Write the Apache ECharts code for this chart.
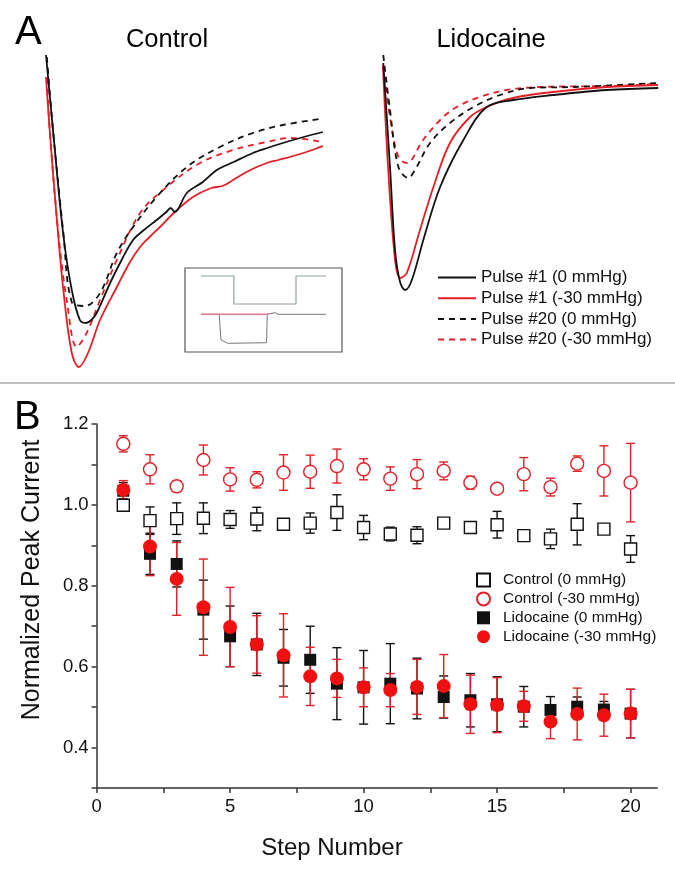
<!DOCTYPE html>
<html><head><meta charset="utf-8">
<script src="https://cdn.jsdelivr.net/npm/echarts@6/dist/echarts.min.js"></script>
<style>html,body{margin:0;padding:0;background:#fff}#c{width:675px;height:874px}</style>
</head><body><div id="c"></div>
<script>
// ---------- Panel A: current traces (t in ms, I in nA) ----------
const traceNames = ['Pulse #1 (0 mmHg)', 'Pulse #1 (-30 mmHg)', 'Pulse #20 (0 mmHg)', 'Pulse #20 (-30 mmHg)'];
const ctlP1_0 = [[0,-0.05],[0.26,-0.83],[0.61,-1.83],[0.92,-2.40],[1.21,-2.70],[1.43,-2.73],[1.62,-2.70],[1.81,-2.63],[2.29,-2.33],[2.7,-2.10],[3.11,-1.90],[3.5,-1.80],[3.95,-1.70],[4.3,-1.62],[4.45,-1.58],[4.6,-1.62],[5.03,-1.43],[5.6,-1.32],[6.10,-1.20],[6.7,-1.12],[7.39,-1.03],[7.9,-0.98],[8.46,-0.93],[9.2,-0.87],[9.89,-0.82]];
const ctlP1_30 = [[0,-0.27],[0.14,-0.83],[0.38,-1.67],[0.62,-2.40],[0.92,-3.03],[1.18,-3.17],[1.50,-3.03],[1.93,-2.70],[2.53,-2.37],[3.0,-2.12],[3.36,-1.97],[3.7,-1.87],[4.07,-1.77],[4.6,-1.62],[5.25,-1.47],[5.9,-1.38],[6.3,-1.36],[6.68,-1.30],[7.3,-1.20],[7.89,-1.13],[8.3,-1.10],[8.71,-1.07],[9.3,-1.02],[9.89,-0.96]];
const ctlP20_0 = [[0.03,-0.07],[0.26,-0.83],[0.62,-1.83],[0.92,-2.52],[1.39,-2.56],[1.93,-2.43],[2.53,-2.03],[3.11,-1.77],[3.95,-1.47],[5.03,-1.17],[6.21,-0.97],[7.39,-0.83],[8.46,-0.75],[9.79,-0.69]];
const ctlP20_30 = [[0.03,-0.28],[0.14,-0.83],[0.44,-1.83],[0.74,-2.50],[1.10,-2.97],[1.45,-2.83],[1.93,-2.50],[2.53,-2.10],[3.36,-1.63],[4.31,-1.37],[5.50,-1.13],[6.68,-1.00],[7.89,-0.92],[8.71,-0.88],[9.89,-0.92]];
const lidP1_0 = [[0.01,-0.13],[0.25,-1.17],[0.43,-2.00],[0.61,-2.32],[0.79,-2.40],[1.03,-2.30],[1.44,-1.90],[2.04,-1.37],[2.87,-0.90],[3.70,-0.57],[4.65,-0.50],[6.08,-0.45],[7.99,-0.40],[9.83,-0.38]];
const lidP1_30 = [[0,-0.17],[0.18,-1.17],[0.43,-2.10],[0.61,-2.28],[0.85,-2.23],[1.32,-1.80],[1.80,-1.37],[2.39,-0.93],[3.11,-0.67],[3.70,-0.57],[4.64,-0.48],[6.07,-0.42],[7.99,-0.37],[9.82,-0.35]];
const lidP20_0 = [[0.01,-0.05],[0.25,-0.60],[0.55,-1.17],[0.90,-1.28],[1.14,-1.20],[1.68,-0.93],[2.39,-0.73],[3.23,-0.57],[4.18,-0.45],[5.25,-0.38],[6.79,-0.37],[9.82,-0.33]];
const lidP20_30 = [[0,-0.15],[0.25,-0.67],[0.55,-1.07],[0.85,-1.13],[1.43,-0.90],[2.04,-0.70],[2.63,-0.57],[3.46,-0.47],[4.42,-0.40],[5.61,-0.37],[7.99,-0.36],[9.82,-0.34]];
// inset protocol (ms, arbitrary units)
const insetVoltage = [[5.3,76],[16.3,76],[16.3,48],[37,48],[37,76],[47,76]];
const insetCurrent = [[5.3,37.7],[11.4,37.7],[12,12],[14.3,8.7],[27.2,9.3],[27.4,37.7],[30,39.3],[31,37.7],[47,37.7]];
const insetBaseline = [[5.3,37.7],[28,37.7]];

// ---------- Panel B: normalized peak current ----------
const steps = [1,2,3,4,5,6,7,8,9,10,11,12,13,14,15,16,17,18,19,20];
const seriesNames = ['Control (0 mmHg)', 'Control (-30 mmHg)', 'Lidocaine (0 mmHg)', 'Lidocaine (-30 mmHg)'];
const ctrl0 = [0.999,0.961,0.966,0.967,0.964,0.965,0.952,0.955,0.981,0.944,0.928,0.925,0.955,0.944,0.951,0.924,0.916,0.952,0.940,0.891];
const ctrl0Err = [0,0.034,0.039,0.038,0.022,0.029,0,0.025,0.044,0.030,0.017,0.021,0,0,0.033,0.008,0.024,0.051,0,0.033];
const ctrl30 = [1.151,1.088,1.046,1.111,1.063,1.062,1.080,1.082,1.096,1.088,1.065,1.076,1.084,1.055,1.040,1.076,1.044,1.102,1.084,1.055];
const ctrl30Err = [0.02,0.036,0.013,0.037,0.029,0.02,0.044,0.041,0.042,0.026,0.029,0.036,0.022,0.016,0,0.041,0.022,0.019,0.062,0.097];
const lido0 = [1.035,0.879,0.854,0.741,0.675,0.655,0.622,0.617,0.558,0.549,0.558,0.546,0.525,0.517,0.507,0.501,0.493,0.501,0.494,0.484];
const lido0Err = [0.02,0.051,0.057,0.073,0.075,0.077,0.07,0.083,0.089,0.091,0.099,0.075,0.052,0.066,0.068,0.05,0.033,0.024,0.02,0.06];
const lido30 = [1.037,0.897,0.817,0.747,0.698,0.655,0.628,0.576,0.571,0.549,0.542,0.550,0.552,0.507,0.505,0.502,0.464,0.483,0.480,0.484];
const lido30Err = [0.023,0.072,0.09,0.119,0.098,0.071,0.103,0.072,0.047,0.048,0.041,0.068,0.078,0.072,0.068,0.037,0.042,0.064,0.052,0.06];
const xTicks = [0,2.5,5,7.5,10,12.5,15,17.5,20];
const xTickLabels = [0,5,10,15,20];
const yTicks = [0.3,0.4,0.5,0.6,0.7,0.8,0.9,1.0,1.1,1.2];
const yTickLabels = [0.4,0.6,0.8,1.0,1.2];

const RED = '#e31f26', BLACK = '#111111';
const FONT = "'Liberation Sans', Arial, Helvetica, sans-serif";

const chart = echarts.init(document.getElementById('c'), null, {renderer: 'canvas'});

function traceSeries(name, data, color, dashed, idx) {
  return {
    type: 'line', name, data, xAxisIndex: idx, yAxisIndex: idx,
    symbol: 'none', showSymbol: false, smooth: 0.35, clip: false, silent: true,
    lineStyle: {color, width: 1.8, type: dashed ? [6, 5] : 'solid'},
    itemStyle: {color}
  };
}
function errSeries(vals, errs, color) {
  return {
    type: 'custom', xAxisIndex: 3, yAxisIndex: 3, silent: true,
    encode: {x: 0, y: [1, 2]},
    data: steps.map((s, i) => [s, vals[i] - errs[i], vals[i] + errs[i]]),
    renderItem: (params, api) => {
      const x = api.value(0), lo = api.value(1), hi = api.value(2);
      if (hi - lo < 1e-6) return null;
      const a = api.coord([x, lo]), b = api.coord([x, hi]);
      const w = 4.5;
      const st = {stroke: color, lineWidth: 1.4};
      return {type: 'group', children: [
        {type: 'line', shape: {x1: a[0], y1: a[1], x2: b[0], y2: b[1]}, style: st},
        {type: 'line', shape: {x1: a[0]-w, y1: a[1], x2: a[0]+w, y2: a[1]}, style: st},
        {type: 'line', shape: {x1: b[0]-w, y1: b[1], x2: b[0]+w, y2: b[1]}, style: st}
      ]};
    }
  };
}
function hiddenAxis(gridIndex, min, max) {
  return {type: 'value', gridIndex, min, max, show: false, splitLine: {show: false}};
}
const axisLine = {lineStyle: {color: '#333', width: 1.5}};

const option = {
  backgroundColor: '#fff',
  animation: false,
  textStyle: {fontFamily: FONT},
  title: [
    {text: 'A', left: 15, top: 13, padding: 0, textStyle: {fontSize: 40, fontWeight: 'normal', color: '#000', fontFamily: FONT}},
    {text: 'Control', left: 167, top: 27, padding: 0, textAlign: 'center', textStyle: {fontSize: 25.5, fontWeight: 'normal', color: '#000', fontFamily: FONT}},
    {text: 'Lidocaine', left: 491, top: 27, padding: 0, textAlign: 'center', textStyle: {fontSize: 25.5, fontWeight: 'normal', color: '#000', fontFamily: FONT}},
    {text: 'B', left: 14, top: 398, padding: 0, textStyle: {fontSize: 40, fontWeight: 'normal', color: '#000', fontFamily: FONT}}
  ],
  graphic: [
    {type: 'line', shape: {x1: 0, y1: 383, x2: 675, y2: 383}, style: {stroke: '#aaa', lineWidth: 1.5}}
  ],
  grid: [
    {left: 46, top: 50, width: 280, height: 330},
    {left: 383, top: 50, width: 280, height: 330},
    {left: 185, top: 268, width: 157, height: 84, show: true, borderColor: '#555', borderWidth: 1.2, backgroundColor: '#fff', z: 5},
    {left: 96.6, top: 424, width: 560.7, height: 364}
  ],
  xAxis: [
    hiddenAxis(0, 0, 10), hiddenAxis(1, 0, 10), Object.assign(hiddenAxis(2, 0, 52.33), {z: 6}),
    {type: 'value', gridIndex: 3, min: 0, max: 21, splitLine: {show: false},
     axisLine, axisTick: {show: true, inside: false, length: 5, customValues: xTicks, lineStyle: {color: '#333', width: 1.5}},
     axisLabel: {customValues: xTickLabels, fontSize: 18.5, color: '#111', margin: 9, fontFamily: FONT},
     name: 'Step Number', nameLocation: 'middle', nameGap: 48,
     nameTextStyle: {fontSize: 24, color: '#111', fontFamily: FONT, padding: [0, 90, 0, 0]}}
  ],
  yAxis: [
    hiddenAxis(0, -3.3, 0), hiddenAxis(1, -3.3, 0), Object.assign(hiddenAxis(2, 0, 84), {z: 6}),
    {type: 'value', gridIndex: 3, min: 0.3, max: 1.2, splitLine: {show: false},
     axisLine, axisTick: {show: true, inside: false, length: 5, customValues: yTicks, lineStyle: {color: '#333', width: 1.5}},
     axisLabel: {customValues: yTickLabels, fontSize: 18.5, color: '#111', margin: 8, fontFamily: FONT,
                 formatter: v => v.toFixed(1)},
     name: 'Normalized Peak Current', nameLocation: 'middle', nameGap: 52,
     nameTextStyle: {fontSize: 25, color: '#111', fontFamily: FONT, padding: [0, 0, 0, 52]}}
  ],
  legend: [
    {data: traceNames, orient: 'vertical', left: 437, top: 269, itemWidth: 38, itemHeight: 14, itemGap: 3.7,
     padding: 0, selectedMode: false, itemStyle: {opacity: 0},
     textStyle: {fontSize: 17, color: '#111', fontFamily: FONT}},
    {data: [
       {name: seriesNames[0], icon: 'rect'},
       {name: seriesNames[1], icon: 'circle'},
       {name: seriesNames[2], icon: 'rect'},
       {name: seriesNames[3], icon: 'circle'}],
     orient: 'vertical', left: 476, top: 572, itemWidth: 13, itemHeight: 13, itemGap: 2.9,
     padding: 0, selectedMode: false, textStyle: {fontSize: 15.5, color: '#111', fontFamily: FONT, padding: [0, 0, 0, 8]}}
  ],
  series: [
    traceSeries(traceNames[3], ctlP20_30, RED, true, 0),
    traceSeries(traceNames[2], ctlP20_0, BLACK, true, 0),
    traceSeries(traceNames[1], ctlP1_30, RED, false, 0),
    traceSeries(traceNames[0], ctlP1_0, BLACK, false, 0),
    traceSeries(traceNames[3], lidP20_30, RED, true, 1),
    traceSeries(traceNames[2], lidP20_0, BLACK, true, 1),
    traceSeries(traceNames[1], lidP1_30, RED, false, 1),
    traceSeries(traceNames[0], lidP1_0, BLACK, false, 1),
    {type: 'line', xAxisIndex: 2, yAxisIndex: 2, data: insetVoltage, symbol: 'none', z: 7, silent: true,
     lineStyle: {color: '#8fa0a0', width: 1.2}},
    {type: 'line', xAxisIndex: 2, yAxisIndex: 2, data: insetCurrent, symbol: 'none', z: 7, silent: true,
     lineStyle: {color: '#777', width: 1}},
    {type: 'line', xAxisIndex: 2, yAxisIndex: 2, data: insetBaseline, symbol: 'none', z: 8, silent: true,
     lineStyle: {color: '#e27c92', width: 1.6}},
    errSeries(ctrl0, ctrl0Err, BLACK),
    {type: 'scatter', name: seriesNames[0], xAxisIndex: 3, yAxisIndex: 3, data: steps.map((s, i) => [s, ctrl0[i]]),
     symbol: 'rect', symbolSize: 12, itemStyle: {color: '#fff', borderColor: BLACK, borderWidth: 1.4, opacity: 1}},
    errSeries(ctrl30, ctrl30Err, RED),
    {type: 'scatter', name: seriesNames[1], xAxisIndex: 3, yAxisIndex: 3, data: steps.map((s, i) => [s, ctrl30[i]]),
     symbol: 'circle', symbolSize: 13, itemStyle: {color: '#fff', borderColor: RED, borderWidth: 1.4, opacity: 1}},
    errSeries(lido0, lido0Err, BLACK),
    {type: 'scatter', name: seriesNames[2], xAxisIndex: 3, yAxisIndex: 3, data: steps.map((s, i) => [s, lido0[i]]),
     symbol: 'rect', symbolSize: 12, itemStyle: {color: BLACK, opacity: 1}},
    errSeries(lido30, lido30Err, RED),
    {type: 'scatter', name: seriesNames[3], xAxisIndex: 3, yAxisIndex: 3, data: steps.map((s, i) => [s, lido30[i]]),
     symbol: 'circle', symbolSize: 14, itemStyle: {color: '#f01010', opacity: 1}}
  ]
};
chart.setOption(option);
</script>
</body></html>
